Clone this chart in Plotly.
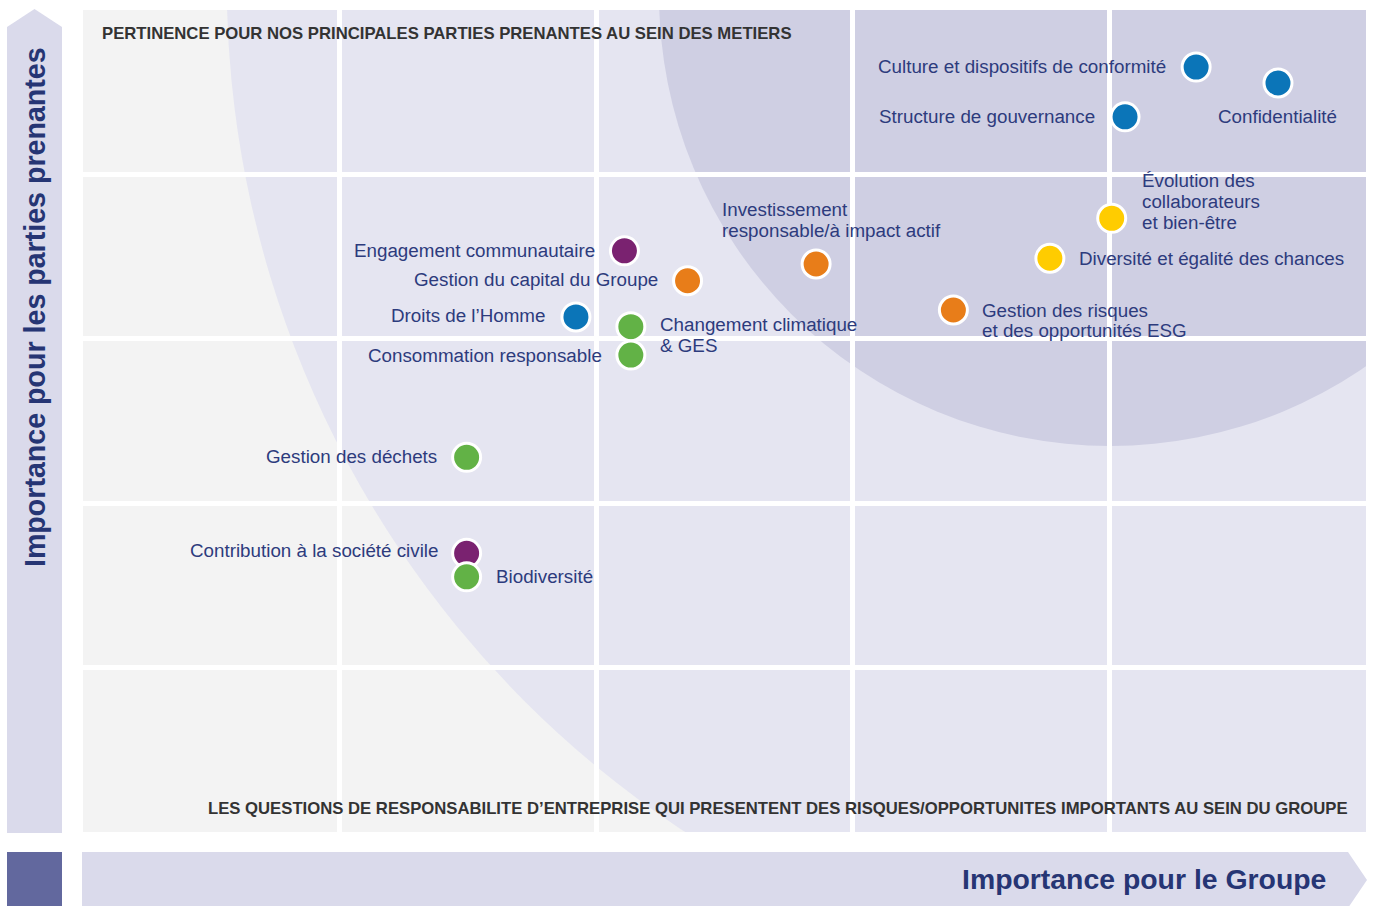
import plotly.graph_objects as go

# ---- data ----
topics = [
    "Culture et dispositifs de conformité",
    "Confidentialité",
    "Structure de gouvernance",
    "Évolution des<br>collaborateurs<br>et bien-être",
    "Diversité et égalité des chances",
    "Investissement<br>responsable/à impact actif",
    "Gestion des risques<br>et des opportunités ESG",
    "Engagement communautaire",
    "Gestion du capital du Groupe",
    "Droits de l’Homme",
    "Changement climatique<br>& GES",
    "Consommation responsable",
    "Gestion des déchets",
    "Contribution à la société civile",
    "Biodiversité",
]
importance_groupe = [4.338, 4.657, 4.061, 4.009, 3.768, 2.857, 3.392, 2.110, 2.356, 1.921, 2.135, 2.135, 1.495, 1.495, 1.495]
importance_parties = [4.653, 4.556, 4.350, 3.733, 3.490, 3.455, 3.175, 3.535, 3.353, 3.133, 3.074, 2.901, 2.279, 1.695, 1.552]
category = ["gouv", "gouv", "gouv", "social", "social", "eco", "eco", "soc", "eco", "gouv", "env", "env", "env", "soc", "env"]

colors = {"gouv": "#0b75b8", "social": "#ffcc00", "eco": "#e87d19", "soc": "#7a2270", "env": "#62b246"}

# label placement: (anchor, xshift px, yshift px of first line, line step px)
label_pos = [
    ("right", -28, 1, 21), ("center", 0, -34, 21), ("right", -28, 0, 21), ("left", 28, 38, 21),
    ("left", 27, 0, 21), ("left", -96, 55, 21), ("left", 27, 0, 20), ("right", -27, 0, 21),
    ("right", -28, 1, 21), ("right", -29, 1, 21), ("left", 27, 2.5, 21), ("right", -27, 0, 21),
    ("right", -28, 1, 21), ("right", -27, 3, 21), ("left", 27, 0, 21),
]

label_color = "#2d3b7d"
font_main = "Liberation Sans, Arial, sans-serif"

fig = go.Figure()

fig.add_trace(go.Scatter(
    x=importance_groupe, y=importance_parties, mode="markers",
    marker=dict(size=28, color=[colors[c] for c in category],
                line=dict(color="white", width=3)),
    hoverinfo="text", hovertext=topics, showlegend=False,
))

annotations = []
for t, xv, yv, (anc, dx, dy, step) in zip(topics, importance_groupe, importance_parties, label_pos):
    for i, line in enumerate(t.split("<br>")):
        annotations.append(dict(
            x=xv, y=yv, xref="x", yref="y", text=line, showarrow=False,
            xanchor=anc, yanchor="middle", xshift=dx, yshift=dy - i * step,
            font=dict(family=font_main, size=18.8, color=label_color),
        ))

head_font = dict(family="Liberation Sans, Arial, sans-serif", size=16.7, color="#333333", weight="bold")
annotations.append(dict(
    x=(100 - 83) / 1283, y=(832 - 34) / 822, xref="paper", yref="paper",
    text="PERTINENCE POUR NOS PRINCIPALES PARTIES PRENANTES AU SEIN DES METIERS",
    showarrow=False, xanchor="left", yanchor="middle", font=head_font,
))
annotations.append(dict(
    x=(1350 - 83) / 1283, y=(832 - 808) / 822, xref="paper", yref="paper",
    text="LES QUESTIONS DE RESPONSABILITE D’ENTREPRISE QUI PRESENTENT DES RISQUES/OPPORTUNITES IMPORTANTS AU SEIN DU GROUPE",
    showarrow=False, xanchor="right", yanchor="middle", font=head_font,
))
annotations.append(dict(
    x=(1328 - 83) / 1283, y=(832 - 879) / 822, xref="paper", yref="paper",
    text="Importance pour le Groupe", showarrow=False, xanchor="right", yanchor="middle",
    font=dict(family=font_main, size=28.4, color="#263574", weight="bold"),
))
annotations.append(dict(
    x=(34.5 - 83) / 1283, y=(832 - 307.5) / 822, xref="paper", yref="paper",
    text="Importance pour les parties prenantes", showarrow=False, textangle=-90,
    xanchor="center", yanchor="middle",
    font=dict(family=font_main, size=28.6, color="#263574", weight="bold"),
))

def px(xp):
    return (xp - 83) / 1283

def py(yp):
    return (832 - yp) / 822

shapes = [
    # light circle
    dict(type="circle", xref="x", yref="y", layer="below",
         x0=0.560, x1=8.486, y0=-1.016, y1=11.356,
         fillcolor="#e5e5f1", line=dict(width=0)),
    # dark circle
    dict(type="circle", xref="x", yref="y", layer="below",
         x0=2.245, x1=5.760, y0=2.348, y1=7.834,
         fillcolor="#cfcfe3", line=dict(width=0)),
    # left vertical arrow bar
    dict(type="path", xref="paper", yref="paper", layer="below",
         path=f"M {px(7)} {py(833)} L {px(7)} {py(27)} L {px(34.5)} {py(9)} L {px(62)} {py(27)} L {px(62)} {py(833)} Z",
         fillcolor="#dadaeb", line=dict(width=0)),
    # bottom-left square
    dict(type="rect", xref="paper", yref="paper", layer="below",
         x0=px(7), x1=px(62), y0=py(852), y1=py(908),
         fillcolor="#62689e", line=dict(width=0)),
    # bottom horizontal arrow bar
    dict(type="path", xref="paper", yref="paper", layer="below",
         path=f"M {px(82)} {py(852)} L {px(1348)} {py(852)} L {px(1367)} {py(880)} L {px(1348)} {py(908)} L {px(82)} {py(908)} Z",
         fillcolor="#dadaeb", line=dict(width=0)),
]

fig.update_layout(
    width=1375, height=906,
    margin=dict(l=83, r=9, t=10, b=74),
    paper_bgcolor="white", plot_bgcolor="#f3f3f3",
    showlegend=False,
    xaxis=dict(range=[0, 5], tickvals=[1, 2, 3, 4], showticklabels=False, ticks="",
               showgrid=True, gridcolor="white", gridwidth=5, zeroline=False,
               showline=False, fixedrange=True),
    yaxis=dict(range=[0, 5], tickvals=[1, 2, 3, 4], showticklabels=False, ticks="",
               showgrid=True, gridcolor="white", gridwidth=5, zeroline=False,
               showline=False, fixedrange=True),
    shapes=shapes, annotations=annotations,
)

fig.write_html("out.html", config={"displayModeBar": False},
               post_script="document.body.style.margin='0';document.body.style.overflow='hidden';")
